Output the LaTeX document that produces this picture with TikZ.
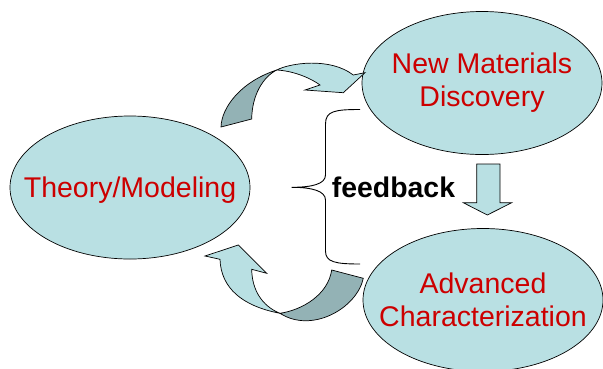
\documentclass[tikz,border=0pt]{standalone}
\usepackage{fontspec}
\setmainfont{Liberation Sans}
\usetikzlibrary{shapes.geometric}
\definecolor{bubblefill}{RGB}{185,224,227}
\definecolor{banddark}{RGB}{147,178,181}
\definecolor{labelred}{RGB}{204,0,0}

\begin{document}
\begin{tikzpicture}[
  x=1pt, y=-1pt,
  bubble/.style={ellipse, draw, fill=bubblefill, line width=0.7pt,
                 minimum width=240pt, minimum height=143pt, inner sep=0pt},
  bubbletext/.style={align=center, text=labelred, inner sep=0pt,
                     font=\fontsize{28.5}{33}\selectfont},
  lightpart/.style={draw, fill=bubblefill, line width=0.7pt},
  darkpart/.style={draw, fill=banddark, line width=0.7pt},
  bracket/.style={draw, line width=0.9pt}
]
\useasboundingbox (0,0) rectangle (603,368);
\node[bubble, label={[bubbletext, yshift=-3pt]center:Theory/Modeling}] (theory) at (130,187.5) {};
\node[bubble, label={[bubbletext]center:New Materials\\Discovery}] (discovery) at (482,83) {};
\node[bubble, label={[bubbletext]center:Advanced\\Characterization}] (charact) at (483,300) {};
\node[font=\bfseries\fontsize{28.4}{33}\selectfont] (feedback) at (393.5,187.6) {feedback};
% curved arrow, theory -> discovery
\path[darkpart] (221,127) .. controls (221.5,108) and (240,82) .. (276.7,70)
  .. controls (263,77) and (252,95) .. (251.7,119) -- cycle;
\path[lightpart] (276.7,70) .. controls (290,63) and (330,57) .. (353.3,75)
  -- (365,72.7) -- (343.3,92.7) -- (305,90) -- (320,85)
  .. controls (312,79) and (295,71) .. (276.7,70) -- cycle;
% curved arrow, characterization -> theory
\path[darkpart] (280,313.3) .. controls (302,310) and (328,295) .. (331.7,270)
  -- (363.3,278.3) .. controls (357,308) and (312,334) .. (280,313.3) -- cycle;
\path[lightpart] (205,256) -- (238.3,245) -- (266.7,273.3) -- (251.7,269.3)
  .. controls (252,290) and (262,306) .. (280,313.3)
  .. controls (242,306) and (221,288) .. (220,259.3) -- cycle;
% brace
\path[bracket] (360,109.5) .. controls (335,109.5) and (325.5,111) .. (325.5,124)
  -- (325.5,175) .. controls (325.5,184) and (312,187.3) .. (291.7,187.3)
  .. controls (312,187.3) and (325.5,191) .. (325.5,200)
  -- (325.5,251) .. controls (325.5,262) and (335,264) .. (360,264);
% down arrow
\path[lightpart] (476.7,164) -- (500,164) -- (500,202.7) -- (511.7,202.7)
  -- (487.3,215) -- (463.3,202.7) -- (476.7,202.7) -- cycle;
\end{tikzpicture}
\end{document}
